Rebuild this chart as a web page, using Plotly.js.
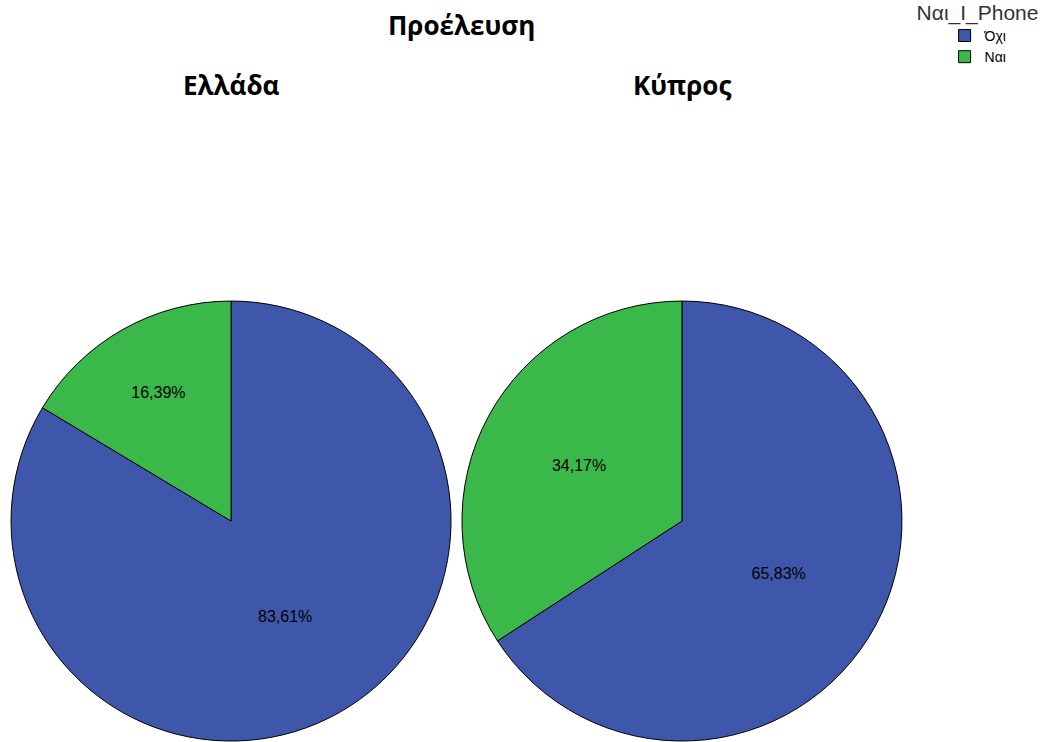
<!DOCTYPE html>
<html>
<head>
<meta charset="utf-8">
<script src="https://cdn.plot.ly/plotly-3.0.1.min.js"></script>
<style>html,body{margin:0;padding:0;background:#fff}#chart{width:1061px;height:742px}</style>
</head>
<body>
<div id="chart"></div>
<script>
// Data
const categories = ['Όχι', 'Ναι'];
const groups = ['Ελλάδα', 'Κύπρος'];
const valuesGreece = [83.61, 16.39];
const valuesCyprus = [65.83, 34.17];
const mainTitle = 'Προέλευση';
const legendTitle = 'Ναι_Ι_Phone';

const colors = ['#3f57aa', '#3ab84a'];
const domainsX = [[0.0104, 0.4251], [0.4354, 0.8501]];
const domainY = [0.0013, 0.5943];
const titleFont = {family: 'Open Sans, Noto Sans, sans-serif', size: 26, color: '#000', weight: 'bold'};

function pie(vals, i) {
  return {
    type: 'pie',
    labels: categories,
    values: vals,
    name: groups[i],
    sort: false,
    direction: 'clockwise',
    rotation: 0,
    domain: {x: domainsX[i], y: domainY},
    marker: {colors: colors, line: {color: '#000', width: 1}},
    textinfo: 'text',
    texttemplate: '%{value:.2f}%',
    textposition: 'inside',
    insidetextorientation: 'horizontal',
    insidetextfont: {family: 'Liberation Sans, Arial, sans-serif', size: 16, color: '#000'},
    hovertemplate: '%{label}: %{value:.2f}%<extra>' + groups[i] + '</extra>',
    showlegend: i === 0
  };
}

const data = [pie(valuesGreece, 0), pie(valuesCyprus, 1)];

const layout = {
  width: 1061,
  height: 742,
  margin: {l: 0, r: 0, t: 0, b: 0, autoexpand: false},
  paper_bgcolor: '#fff',
  separators: ',.',
  showlegend: true,
  legend: {
    x: 0.862, xanchor: 'left', y: 1.01, yanchor: 'top',
    bgcolor: 'rgba(0,0,0,0)',
    indentation: 30,
    title: {text: legendTitle, side: 'top', font: {family: 'Liberation Sans, Arial, sans-serif', size: 21, color: '#333'}},
    font: {family: 'Liberation Sans, Arial, sans-serif', size: 14, color: '#000'},
    itemwidth: 30,
    tracegroupgap: 0
  },
  annotations: [
    {text: mainTitle, xref: 'paper', yref: 'paper', x: 0.4345, y: 1 - 25/742, xanchor: 'center', yanchor: 'middle', showarrow: false, font: titleFont},
    {text: groups[0], xref: 'paper', yref: 'paper', x: (domainsX[0][0] + domainsX[0][1]) / 2, y: 1 - 85/742, xanchor: 'center', yanchor: 'middle', showarrow: false, font: titleFont},
    {text: groups[1], xref: 'paper', yref: 'paper', x: (domainsX[1][0] + domainsX[1][1]) / 2, y: 1 - 85/742, xanchor: 'center', yanchor: 'middle', showarrow: false, font: titleFont}
  ]
};

Plotly.newPlot('chart', data, layout, {displayModeBar: false});
</script>
</body>
</html>
